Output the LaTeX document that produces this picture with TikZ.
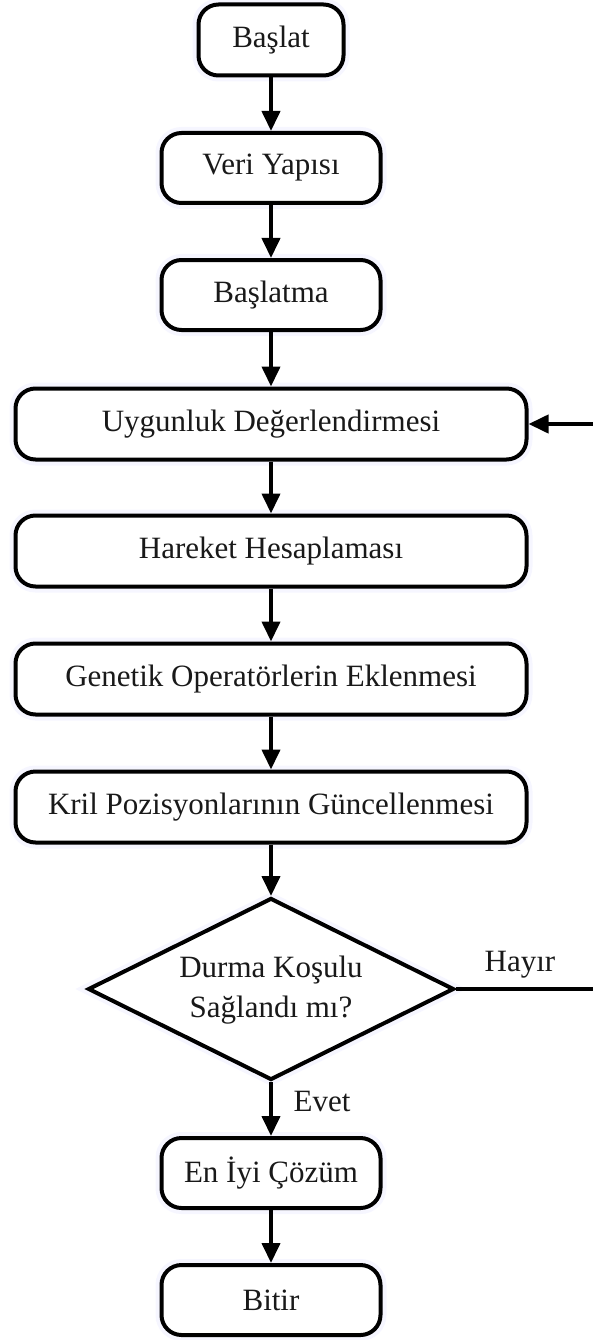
\documentclass[tikz,border=0pt]{standalone}
\usepackage{fontspec}
\setmainfont{Liberation Serif}
\usetikzlibrary{shapes.geometric,arrows.meta}
\begin{document}
\begin{tikzpicture}[x=1pt,y=-1pt,
  txt/.style={font=\fontsize{31}{40}\selectfont, text=black!90},
  halo/.style={preaction={draw=blue!60, line width=12pt, opacity=0.06}},
  box/.style={txt, halo, draw, line width=4pt, rounded corners=20pt,
    fill=white, inner sep=0pt},
  smallbox/.style={box, minimum width=219pt, minimum height=70pt},
  widebox/.style={box, minimum width=511pt, minimum height=71pt},
  decision/.style={txt, halo, draw, line width=4pt, shape=diamond, fill=white,
    inner sep=0pt, minimum width=366pt, minimum height=182pt, aspect=2.01},
  arr/.style={line width=4pt, -{Triangle[length=20pt,width=18pt]}},
  lbl/.style={txt}]
\useasboundingbox (0,0) rectangle (592,1340);

% process steps
\node[box, minimum width=145pt, minimum height=71pt] (start) at (271,40) {Başlat};
\node[smallbox] (veri) at (271,168) {Veri Yapısı};
\node[smallbox] (init) at (271,295) {Başlatma};
\node[widebox] (fit) at (271,424) {Uygunluk Değerlendirmesi};
\node[widebox] (move) at (271,551) {Hareket Hesaplaması};
\node[widebox] (gen) at (271,679) {Genetik Operatörlerin Eklenmesi};
\node[widebox] (pos) at (271,807) {Kril Pozisyonlarının Güncellenmesi};
\node[decision] (cond) at (271,989) {};
\node[txt, align=center] (condtext) at (271,990) {Durma Koşulu\\Sağlandı mı?};
\node[smallbox] (best) at (271,1173) {En İyi Çözüm};
\node[smallbox] (stop) at (271,1300) {Bitir};

% main flow
\draw[arr] (start) -- (veri);
\draw[arr] (veri) -- (init);
\draw[arr] (init) -- (fit);
\draw[arr] (fit) -- (move);
\draw[arr] (move) -- (gen);
\draw[arr] (gen) -- (pos);
\draw[arr] (pos) -- (cond);
\draw[arr] (cond) -- (best);
\draw[arr] (best) -- (stop);

% loop back when the stop condition is not met
\coordinate (loopa) at (604,989);
\coordinate (loopb) at (604,424);
\draw[arr] (cond.east) -- (loopa) -- (loopb) -- (fit.east);

\node[lbl] (no) at (520,965) {Hayır};
\node[lbl] (yes) at (322,1101) {Evet};
\end{tikzpicture}
\end{document}
